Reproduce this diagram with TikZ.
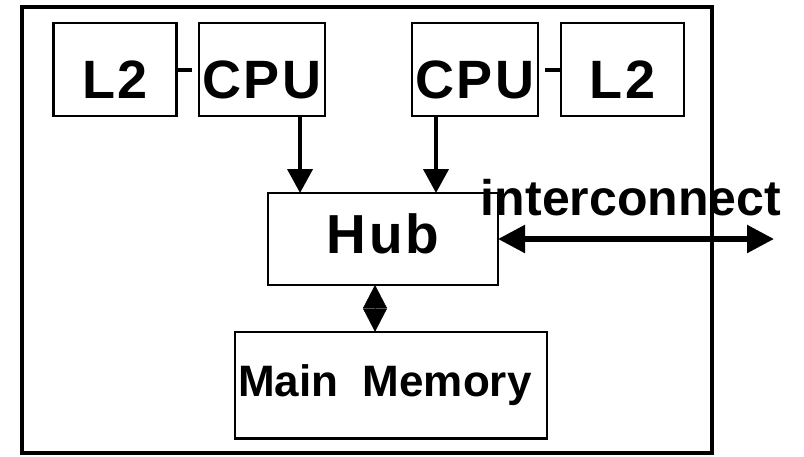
\documentclass[tikz,border=0pt]{standalone}
\usepackage{fontspec}
\setmainfont{Liberation Sans}
\newfontfamily\spacedfont{Liberation Sans}[LetterSpace=5]
\usetikzlibrary{arrows.meta, positioning}

\begin{document}
\begin{tikzpicture}[x=1pt, y=-1pt,
        unit/.style={rectangle, draw, line width=2.5pt, outer sep=0pt, minimum width=123pt, minimum height=93pt, text height=57pt, text depth=0pt, font=\spacedfont\bfseries\fontsize{54}{60}\selectfont},
        hubbox/.style={rectangle, draw, line width=2.5pt, outer sep=0pt, minimum width=230pt, minimum height=92pt, text height=28pt, text depth=0pt, font=\spacedfont\bfseries\fontsize{55}{60}\selectfont},
        membox/.style={rectangle, draw, line width=2.5pt, outer sep=0pt, minimum width=307pt, minimum height=106.5pt, text height=23pt, text depth=0pt, font=\bfseries\fontsize{44}{50}\selectfont},
        link/.style={draw, line width=4pt},
        bus/.style={draw, line width=4pt, -{Triangle[length=24pt, width=25pt]}},
        memlink/.style={draw, line width=0.5pt, {Triangle[length=23.25pt, width=24pt]}-{Triangle[length=23.25pt, width=24pt]}},
        netlink/.style={draw, line width=5.5pt, {Triangle[length=27pt, width=27pt]}-{Triangle[length=27pt, width=27pt]}}
    ]
    \useasboundingbox (0,0) rectangle (804,456);

    % Board outline
    \draw[line width=4pt] (22,7) rectangle (712,453);

    % Nodes
    \node[unit] (l2left) at (115,69.5) {L2};
    \node[unit, right=22.5pt of l2left] (cpuleft) {CPU};
    \node[unit] (cpuright) at (475,69.5) {CPU};
    \node[unit, right=23pt of cpuright] (l2right) {L2};
    \node[hubbox] (hub) at (383,239) {Hub};
    \node[membox] (mem) at (391,385) {Main\ \ Memory\ \ };
    \coordinate (netend) at (774,239);
    \node[anchor=base, inner sep=0pt, font=\bfseries\fontsize{50}{56}\selectfont] (netlabel) at (631,215) {interconnect};

    % Connections
    \path [link, shorten >=7pt] (l2left.east) -- (cpuleft.west);
    \path [link, shorten <=7pt] (cpuright.east) -- (l2right.west);
    \path [bus] ([xshift=38pt]cpuleft.south) -- ([xshift=38pt]cpuleft.south |- hub.north);
    \path [bus] ([xshift=-39pt]cpuright.south) -- ([xshift=-39pt]cpuright.south |- hub.north);
    \path [memlink] ([xshift=-8pt]hub.south) -- ([xshift=-8pt]hub.south |- mem.north);
    \path [netlink] (hub.east) -- (netend);

\end{tikzpicture}
\end{document}
